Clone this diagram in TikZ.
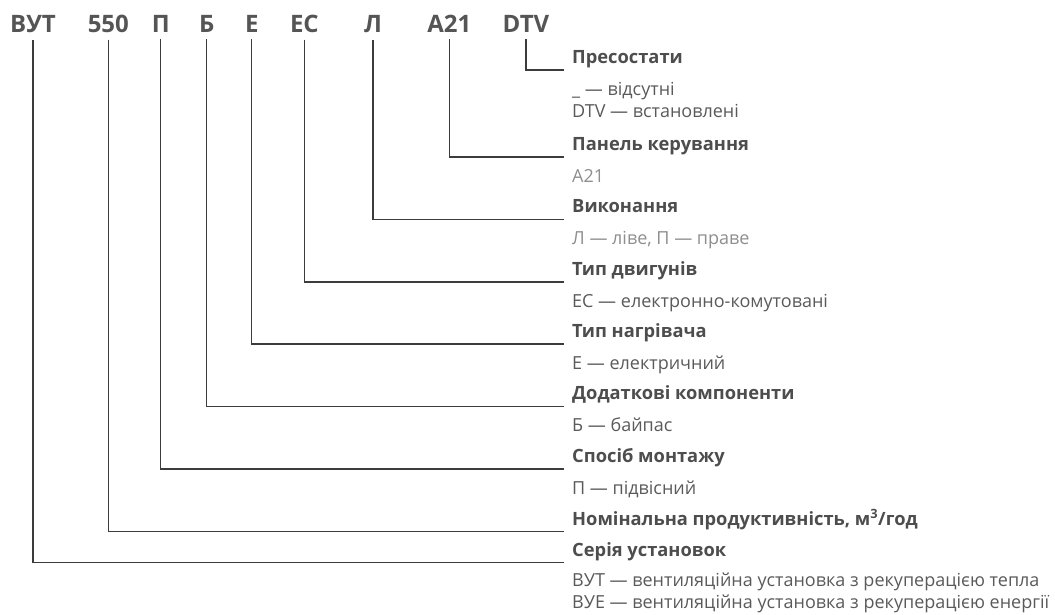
\documentclass[tikz,border=0pt]{standalone}
\usepackage{fontspec}
\setmainfont{Open Sans}
\definecolor{codegray}{HTML}{555555}
\definecolor{titlegray}{HTML}{4D4D4D}
\definecolor{descgray}{HTML}{5A5A5A}
\definecolor{desclight}{HTML}{8E8E8E}
\definecolor{linegray}{HTML}{3C3C3C}
\tikzset{
  codetxt/.style={font=\fontsize{24}{24}\selectfont\bfseries, text=codegray, anchor=base, inner sep=0pt, outer xsep=0pt, outer ysep=7pt},
  titletxt/.style={font=\fontsize{18.3}{18.3}\selectfont\bfseries, text=titlegray, anchor=base west, inner sep=0pt},
  desctxt/.style={font=\fontsize{18}{18}\selectfont, text=descgray, anchor=base west, inner sep=0pt},
  desclt/.style={desctxt, text=desclight},
  conn/.style={draw=linegray, line width=1.1pt}
}
\begin{document}
\begin{tikzpicture}[x=1pt,y=-1pt]
\useasboundingbox (0,0) rectangle (1055,614);
% codes
\node[codetxt] (c1) at (33,32.3) {ВУТ};
\node[codetxt] (c2) at (108.3,32.3) {550};
\node[codetxt] (c3) at (160.8,32.3) {П};
\node[codetxt] (c4) at (206.9,32.3) {Б};
\node[codetxt] (c5) at (251.9,32.3) {Е};
\node[codetxt] (c6) at (304.4,32.3) {ЕС};
\node[codetxt] (c7) at (373,32.3) {Л};
\node[codetxt] (c8) at (449.4,32.3) {А21};
\node[codetxt] (c9) at (526,32.3) {DTV};
% line end coordinates
\coordinate (e9) at (564,70);
\coordinate (e8) at (564,157);
\coordinate (e7) at (564,219.5);
\coordinate (e6) at (564,282);
\coordinate (e5) at (564,344);
\coordinate (e4) at (564,406.5);
\coordinate (e3) at (564,469);
\coordinate (e2) at (564,531.5);
\coordinate (e1) at (564,562.5);
% titles and descriptions
\node[titletxt] (t9) at (572,63.5) {Пресостати};
\node[desctxt] (d9a) at (572,95) {\_ — відсутні};
\node[desctxt] (d9b) at (572,117) {DTV — встановлені};
\node[titletxt] (t8) at (572,150) {Панель керування};
\node[desclt] (d8) at (572,182) {А21};
\node[titletxt] (t7) at (572,212.5) {Виконання};
\node[desclt] (d7) at (572,244.5) {Л — ліве, П — праве};
\node[titletxt] (t6) at (572,275) {Тип двигунів};
\node[desctxt] (d6) at (572,307) {ЕС — електронно-комутовані};
\node[titletxt] (t5) at (572,337) {Тип нагрівача};
\node[desctxt] (d5) at (572,369) {Е — електричний};
\node[titletxt] (t4) at (572,399.5) {Додаткові компоненти};
\node[desctxt] (d4) at (572,431.5) {Б — байпас};
\node[titletxt] (t3) at (572,462) {Спосіб монтажу};
\node[desctxt] (d3) at (572,494) {П — підвісний};
\node[titletxt] (t2) at (572,525) {Номінальна продуктивність, м\textsuperscript{3}/год};
\node[titletxt] (t1) at (572,556.5) {Серія установок};
\node[desctxt] (d1a) at (572,586.5) {ВУТ — вентиляційна установка з рекуперацією тепла};
\node[desctxt] (d1b) at (572,608) {ВУЕ — вентиляційна установка з рекуперацією енергії};
% connectors
\foreach \i in {1,...,9}{
  \draw[conn] (c\i.south) |- (e\i);
}
\end{tikzpicture}
\end{document}
